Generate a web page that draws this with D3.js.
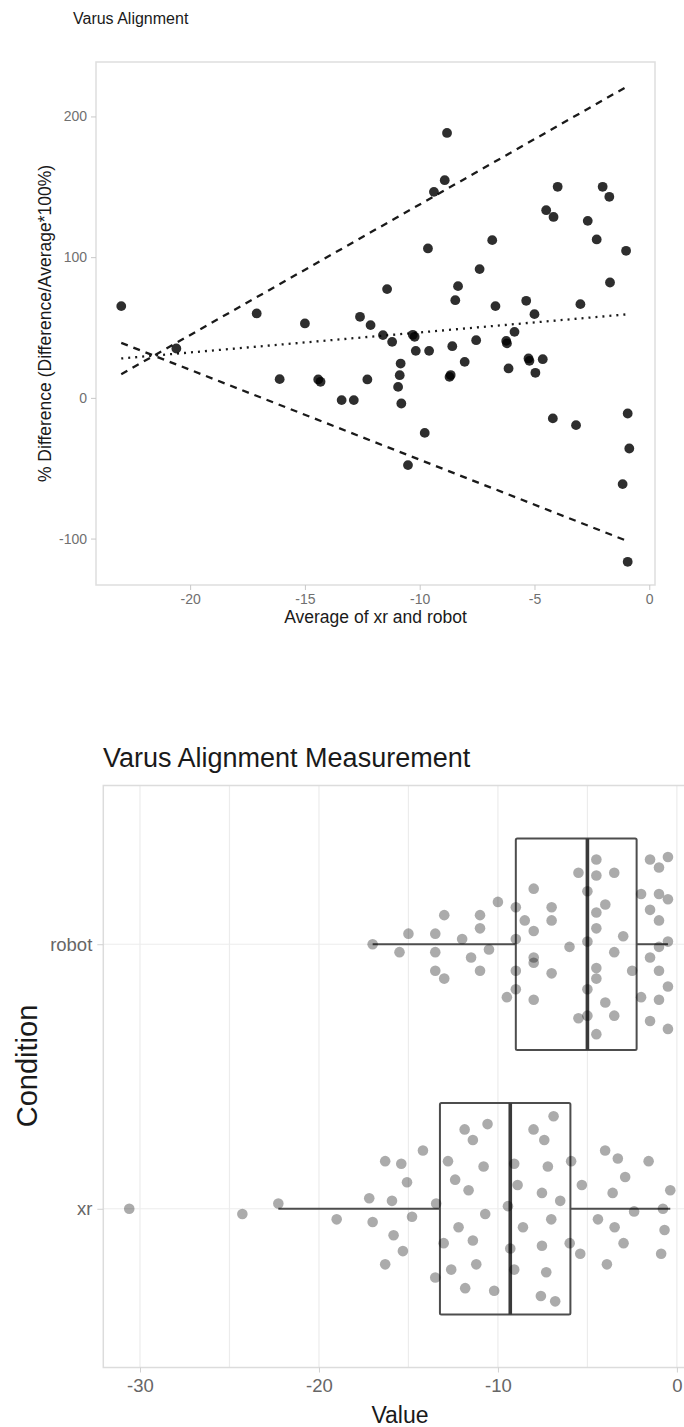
<!DOCTYPE html>
<html>
<head>
<meta charset="utf-8">
<script src="https://cdn.jsdelivr.net/npm/d3@7"></script>
<style>
  body { margin: 0; background: #fff; overflow: hidden; }
  svg { display: block; font-family: "Liberation Sans", Arial, Helvetica, sans-serif; }
</style>
</head>
<body>
<div id="chart"></div>
<script>
// ---- top chart: average of xr and robot vs % difference ----
var baAverage = [-23.0, -20.6, -17.1, -16.1, -15.0, -14.42, -14.32, -13.4, -12.87, -12.6,
    -12.28, -12.14, -11.6, -11.42, -11.2, -10.83, -10.87, -10.94, -10.8, -10.51,
    -10.22, -10.3, -10.17, -9.78, -9.64, -9.59, -9.38, -8.91, -8.81, -8.7,
    -8.65, -8.58, -8.45, -8.33, -8.04, -7.54, -7.39, -6.84, -6.7, -6.23,
    -6.2, -6.13, -5.87, -5.36, -5.26, -5.22, -5.0, -4.96, -4.64, -4.49,
    -4.2, -4.17, -3.99, -3.19, -3.0, -2.68, -2.29, -2.03, -1.74, -1.71,
    -1.16, -1.01, -0.94, -0.87, -0.94];
var baPctDiff = [65.2, 35.1, 60.0, 13.3, 52.9, 13.1, 11.4, -1.6, -1.6, 57.6,
    13.1, 51.7, 44.6, 77.3, 39.8, 24.4, 16.1, 7.8, -4.0, -47.8,
    43.4, 44.8, 33.4, -24.9, 106.2, 33.4, 146.4, 154.7, 188.3, 14.9,
    16.2, 36.7, 69.4, 79.4, 25.6, 41.0, 91.5, 112.1, 65.2, 40.5,
    38.7, 20.9, 46.9, 69.0, 28.0, 26.3, 59.5, 17.8, 27.5, 133.4,
    -14.6, 128.6, 150.0, -19.4, 66.6, 125.8, 112.6, 150.0, 142.9, 82.0,
    -61.3, 104.5, -11.1, -36.0, -116.5];

// reference lines (start and end of the fitted range)
var lineX = [-23.0, -0.87];
var upperLine = [16.8, 222.2];
var meanLine = [28.0, 59.5];
var lowerLine = [39.1, -102.3];

var baXTicks = [-20, -15, -10, -5, 0];
var baYTicks = [-100, 0, 100, 200];

// ---- bottom chart: measurement by condition ----
var conditions = ["xr", "robot"];
var robotValues = [-17, -15, -15.5, -13.5, -13.5, -13, -13.5, -13, -12, -11.5,
    -11, -11, -11, -10.5, -10, -9.5, -9, -9, -9, -9,
    -8.5, -8, -8, -8, -8, -8, -7, -7, -7, -6,
    -5.5, -5.5, -5, -5, -5, -5, -4.5, -4.5, -4.5, -4.5,
    -4.5, -4.5, -4.5, -4, -4, -3.5, -3.5, -3.5, -3, -2.5,
    -2, -2, -1.5, -1.5, -1.5, -1.5, -1, -1, -1, -1,
    -1, -1, -0.5, -0.5, -0.5, -0.5, -0.5];
var robotJitter = [0.00, 0.04, -0.03, 0.04, -0.03, 0.11, -0.10, -0.13, 0.02, -0.05,
    0.11, 0.06, -0.10, -0.02, 0.16, -0.20, 0.14, 0.02, -0.10, -0.17,
    0.09, 0.21, 0.05, -0.05, -0.07, -0.21, 0.14, 0.09, -0.11, -0.01,
    0.27, -0.28, 0.20, 0.01, -0.17, -0.27, 0.32, 0.26, 0.12, 0.06,
    -0.09, -0.13, -0.34, 0.15, -0.22, 0.27, -0.03, -0.27, 0.03, -0.10,
    0.19, -0.20, 0.32, 0.13, -0.05, -0.29, 0.29, 0.19, 0.09, -0.01,
    -0.10, -0.21, 0.33, 0.17, 0.01, -0.16, -0.32];
var xrValues = [-30.6, -24.28, -22.27, -19.01, -16.3, -16.3, -17.19, -17.0, -15.92, -15.83,
    -15.4, -15.31, -15.08, -14.8, -14.19, -13.45, -13.5, -13.03, -12.79, -12.61,
    -12.39, -12.2, -11.86, -11.83, -11.64, -11.4, -11.4, -11.21, -10.8, -10.71,
    -10.58, -10.21, -9.44, -9.31, -9.09, -8.9, -9.09, -8.6, -8.01, -7.54,
    -7.54, -7.6, -7.41, -7.21, -7.3, -7.02, -6.89, -6.8, -6.52, -5.91,
    -5.99, -5.4, -5.31, -4.41, -4.01, -3.91, -3.59, -3.48, -3.3, -2.98,
    -2.89, -2.39, -1.58, -0.88, -0.78, -0.69, -0.37];
var xrJitter = [0.00, -0.02, 0.02, -0.04, 0.18, -0.21, 0.04, -0.05, 0.03, -0.10,
    0.17, -0.16, 0.10, -0.03, 0.22, 0.02, -0.26, -0.13, 0.18, -0.23,
    0.11, -0.07, 0.30, -0.30, 0.07, 0.26, -0.12, -0.21, 0.16, -0.02,
    0.32, -0.31, 0.01, -0.15, 0.17, 0.09, -0.23, -0.07, 0.30, 0.06,
    -0.14, -0.33, 0.26, 0.16, -0.24, -0.04, 0.35, -0.35, 0.03, 0.18,
    -0.13, -0.17, 0.09, -0.04, 0.22, -0.21, 0.06, -0.07, 0.19, -0.13,
    0.12, -0.01, 0.18, -0.17, 0.00, -0.08, 0.07];

var boxXTicks = [-30, -20, -10, 0];
var boxMinorTicks = [-25, -15, -5];

var plainNum = function(d) { return String(d); };

var svg = d3.select("#chart").append("svg")
    .attr("width", 684)
    .attr("height", 1427);

/* ================= top chart ================= */
var baPanel = {left: 96, right: 655, top: 62, bottom: 585};

var xBA = d3.scaleLinear().domain([-24.1, 0.25]).range([baPanel.left, baPanel.right]);
var yBA = d3.scaleLinear().domain([-133, 238.7]).range([baPanel.bottom, baPanel.top]);

var g1 = svg.append("g");

g1.append("text")
    .attr("x", 73).attr("y", 24)
    .attr("font-size", 16).attr("fill", "#1a1a1a")
    .text("Varus Alignment");

g1.append("rect")
    .attr("x", baPanel.left).attr("y", baPanel.top)
    .attr("width", baPanel.right - baPanel.left).attr("height", baPanel.bottom - baPanel.top)
    .attr("fill", "none").attr("stroke", "#dedede").attr("stroke-width", 1.5);

var xAxisBA = d3.axisBottom(xBA).tickValues(baXTicks).tickSize(5).tickPadding(4).tickFormat(plainNum);
var yAxisBA = d3.axisLeft(yBA).tickValues(baYTicks).tickSize(5).tickPadding(4).tickFormat(plainNum);

g1.append("g").attr("class", "axis")
    .attr("transform", "translate(0," + baPanel.bottom + ")")
    .call(xAxisBA);
g1.append("g").attr("class", "axis")
    .attr("transform", "translate(" + baPanel.left + ",0)")
    .call(yAxisBA);

g1.selectAll(".axis .domain").remove();
g1.selectAll(".axis line").attr("stroke", "#c8c8c8");
g1.selectAll(".axis text").attr("fill", "#707070").attr("font-size", 14)
    .attr("font-family", "Liberation Sans, Arial, sans-serif");

g1.append("text")
    .attr("x", (baPanel.left + baPanel.right) / 2).attr("y", 623)
    .attr("text-anchor", "middle")
    .attr("font-size", 17.5).attr("fill", "#1a1a1a")
    .text("Average of xr and robot");

g1.append("text")
    .attr("transform", "translate(51," + ((baPanel.top + baPanel.bottom) / 2) + ") rotate(-90)")
    .attr("text-anchor", "middle")
    .attr("font-size", 17.5).attr("fill", "#1a1a1a")
    .text("% Difference (Difference/Average*100%)");

var refLines = [
    {ys: upperLine, dash: "7,6"},
    {ys: lowerLine, dash: "7,6"},
    {ys: meanLine, dash: "2,5"}
];
var lineGen = d3.line()
    .x(function(d) { return xBA(d[0]); })
    .y(function(d) { return yBA(d[1]); });

g1.selectAll(".ref-line")
    .data(refLines)
    .enter().append("path")
    .attr("class", "ref-line")
    .attr("d", function(d) { return lineGen(lineX.map(function(x, i) { return [x, d.ys[i]]; })); })
    .attr("fill", "none")
    .attr("stroke", "#1a1a1a")
    .attr("stroke-width", 2.3)
    .attr("stroke-dasharray", function(d) { return d.dash; });

g1.selectAll(".ba-point")
    .data(baAverage)
    .enter().append("circle")
    .attr("class", "ba-point")
    .attr("cx", function(d) { return xBA(d); })
    .attr("cy", function(d, i) { return yBA(baPctDiff[i]); })
    .attr("r", 4.9)
    .attr("fill", "#000")
    .attr("fill-opacity", 0.82);

/* ================= bottom chart ================= */
var bot = {left: 103.3, right: 710, top: 785.5, bottom: 1367.5};

var xBox = d3.scaleLinear().domain([-32.05, 1.85]).range([bot.left, bot.right]);
// discrete positions xr = 1, robot = 2, with ggplot style padding
var yBox = d3.scaleLinear().domain([0.4, 2.6]).range([bot.bottom, bot.top]);
var catPos = function(c) { return conditions.indexOf(c) + 1; };

var g2 = svg.append("g");

g2.append("text")
    .attr("x", 103).attr("y", 767)
    .attr("font-size", 27).attr("fill", "#1a1a1a")
    .text("Varus Alignment Measurement");

// grid
g2.selectAll(".vgrid")
    .data(boxXTicks.concat(boxMinorTicks))
    .enter().append("line")
    .attr("x1", function(d) { return xBox(d); })
    .attr("x2", function(d) { return xBox(d); })
    .attr("y1", bot.top).attr("y2", bot.bottom)
    .attr("stroke", "#ececec").attr("stroke-width", 1.2);

g2.selectAll(".hgrid")
    .data(conditions)
    .enter().append("line")
    .attr("x1", bot.left).attr("x2", bot.right)
    .attr("y1", function(d) { return yBox(catPos(d)); })
    .attr("y2", function(d) { return yBox(catPos(d)); })
    .attr("stroke", "#ececec").attr("stroke-width", 1.2);

g2.append("rect")
    .attr("x", bot.left).attr("y", bot.top)
    .attr("width", bot.right - bot.left).attr("height", bot.bottom - bot.top)
    .attr("fill", "none").attr("stroke", "#dcdcdc").attr("stroke-width", 1.5);

var xAxisBox = d3.axisBottom(xBox).tickValues(boxXTicks).tickSize(5).tickPadding(6).tickFormat(plainNum);
var yAxisBox = d3.axisLeft(yBox).tickValues([1, 2]).tickSize(6).tickPadding(5)
    .tickFormat(function(d) { return conditions[d - 1]; });

g2.append("g").attr("class", "axis")
    .attr("transform", "translate(0," + bot.bottom + ")")
    .call(xAxisBox);
g2.append("g").attr("class", "axis")
    .attr("transform", "translate(" + bot.left + ",0)")
    .call(yAxisBox);

g2.selectAll(".axis .domain").remove();
g2.selectAll(".axis line").attr("stroke", "#d0d0d0");
g2.selectAll(".axis text").attr("fill", "#666").attr("font-size", 18.5)
    .attr("font-family", "Liberation Sans, Arial, sans-serif");

g2.append("text")
    .attr("x", 400).attr("y", 1423)
    .attr("text-anchor", "middle")
    .attr("font-size", 23).attr("fill", "#1a1a1a")
    .text("Value");

g2.append("text")
    .attr("transform", "translate(37,1066) rotate(-90)")
    .attr("text-anchor", "middle")
    .attr("font-size", 29).attr("fill", "#1a1a1a")
    .text("Condition");

// box statistics from the values (R type 7 quantiles, 1.5 IQR whiskers)
function boxStats(values) {
    var s = values.slice().sort(d3.ascending);
    var q1 = d3.quantile(s, 0.25), med = d3.quantile(s, 0.5), q3 = d3.quantile(s, 0.75);
    var iqr = q3 - q1;
    var inside = s.filter(function(v) { return v >= q1 - 1.5 * iqr && v <= q3 + 1.5 * iqr; });
    return {q1: q1, median: med, q3: q3, lo: d3.min(inside), hi: d3.max(inside)};
}

var groups = [
    {name: "robot", values: robotValues, jitter: robotJitter},
    {name: "xr", values: xrValues, jitter: xrJitter}
];
groups.forEach(function(gr) { gr.stats = boxStats(gr.values); });

var boxHalf = 0.4;
var boxColor = "#4d4d4d";

var boxes = g2.selectAll(".box")
    .data(groups)
    .enter().append("g")
    .attr("class", "box");

boxes.append("line")
    .attr("x1", function(d) { return xBox(d.stats.lo); })
    .attr("x2", function(d) { return xBox(d.stats.q1); })
    .attr("y1", function(d) { return yBox(catPos(d.name)); })
    .attr("y2", function(d) { return yBox(catPos(d.name)); })
    .attr("stroke", boxColor).attr("stroke-width", 2);

boxes.append("line")
    .attr("x1", function(d) { return xBox(d.stats.q3); })
    .attr("x2", function(d) { return xBox(d.stats.hi); })
    .attr("y1", function(d) { return yBox(catPos(d.name)); })
    .attr("y2", function(d) { return yBox(catPos(d.name)); })
    .attr("stroke", boxColor).attr("stroke-width", 2);

boxes.append("rect")
    .attr("x", function(d) { return xBox(d.stats.q1); })
    .attr("y", function(d) { return yBox(catPos(d.name) + boxHalf); })
    .attr("width", function(d) { return xBox(d.stats.q3) - xBox(d.stats.q1); })
    .attr("height", function(d) { return yBox(catPos(d.name) - boxHalf) - yBox(catPos(d.name) + boxHalf); })
    .attr("rx", 1.5)
    .attr("fill", "none")
    .attr("stroke", boxColor).attr("stroke-width", 2);

boxes.append("line")
    .attr("x1", function(d) { return xBox(d.stats.median); })
    .attr("x2", function(d) { return xBox(d.stats.median); })
    .attr("y1", function(d) { return yBox(catPos(d.name) + boxHalf); })
    .attr("y2", function(d) { return yBox(catPos(d.name) - boxHalf); })
    .attr("stroke", "#3a3a3a").attr("stroke-width", 3.6);

// jittered points
groups.forEach(function(gr) {
    g2.selectAll(".pt-" + gr.name)
        .data(gr.values)
        .enter().append("circle")
        .attr("class", "pt-" + gr.name)
        .attr("cx", function(d) { return xBox(d); })
        .attr("cy", function(d, i) { return yBox(catPos(gr.name) + gr.jitter[i]); })
        .attr("r", 5.3)
        .attr("fill", "#000")
        .attr("fill-opacity", 0.33);
});
</script>
</body>
</html>
